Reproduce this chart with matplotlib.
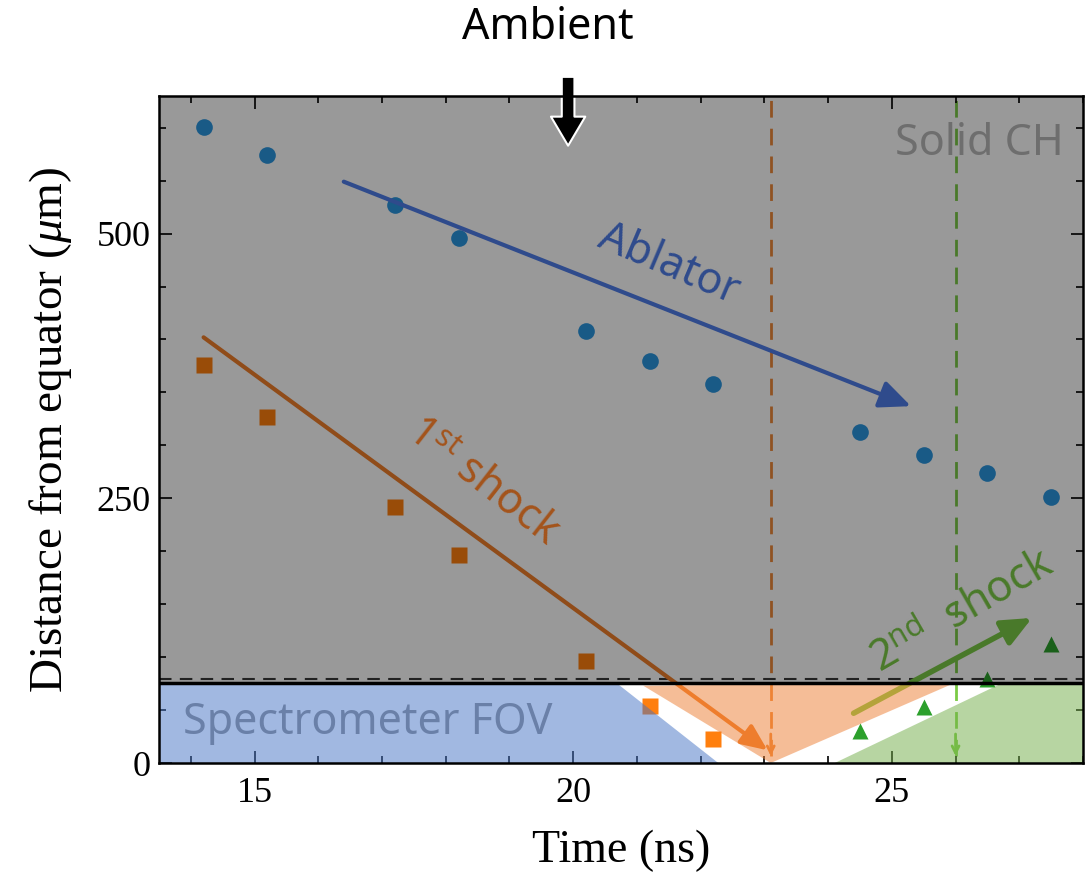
import matplotlib
matplotlib.use('Agg')
import matplotlib.pyplot as plt
from matplotlib.patches import Polygon, Rectangle
from matplotlib.ticker import MultipleLocator

plt.rcParams['mathtext.fontset'] = 'custom'
plt.rcParams['mathtext.rm'] = 'Liberation Serif'
plt.rcParams['mathtext.it'] = 'Liberation Serif:italic'
plt.rcParams['mathtext.sf'] = 'Noto Sans'

# measured positions (ns, um)
time = [14.2, 15.2, 17.2, 18.2, 20.2, 21.2, 22.2, 24.5, 25.5, 26.5, 27.5]
ablator = [601, 574, 527, 496, 408, 380, 358, 313, 291, 274, 251]
shock1_time = [14.2, 15.2, 17.2, 18.2, 20.2, 21.2, 22.2]
shock1 = [376, 327, 242, 196, 96, 54, 23]
shock2_time = [24.5, 25.5, 26.5, 27.5]
shock2 = [30, 53, 79, 112]

solid_edge = 76          # lower edge of the solid CH region
shock1_exit = 23.1
shock2_exit = 26.0

# guide arrows (start, end)
ablator_arrow = [(16.4, 549), (25.3, 337)]
shock1_arrow = [(14.2, 402), (23.05, 12)]
shock2_arrow = [(24.4, 47), (27.2, 137)]
ambient_arrow = [(19.92, 648), (19.92, 583)]

# spectrometer field of view zones
blue_zone = [(13.5, 76), (20.67, 76), (22.34, -3), (13.5, -3)]
orange_zone = [(21.1, 73), (26.0, 76), (23.1, 0)]
green_zone = [(24.0, -3), (26.75, 76), (28.0, 76), (28.0, -3)]

sans = 'Noto Sans'
serif = 'Liberation Serif'

fig = plt.figure(figsize=(10.89, 8.72), dpi=100)
ax = fig.add_axes([0.146, 0.125, 0.8485, 0.765])
ax.set_xlim(13.5, 28.0)
ax.set_ylim(0, 630)

# data, drawn under the grey overlay
ax.plot(time, ablator, 'o', color='#2b96e0', ms=12, mec='none', zorder=1)
ax.plot(shock1_time, shock1, 's', color='#ff7f0e', ms=11, mec='none', zorder=1)
ax.plot(shock2_time, shock2, '^', color='#2ca02c', ms=12, mec='none', zorder=1)

ax.axvline(shock1_exit, ymin=0.01, color='#f08a3a', lw=2, ls=(0, (6, 4)), zorder=1)
ax.axvline(shock2_exit, ymin=0.01, color='#7bcb46', lw=2, ls=(0, (6, 4)), zorder=1)
for xe, c in [(shock1_exit, '#f08a3a'), (shock2_exit, '#7bcb46')]:
    ax.annotate('', xy=(xe, 4), xytext=(xe, 30),
                arrowprops=dict(arrowstyle='->,head_length=0.5,head_width=0.25', color=c, lw=2),
                zorder=1)
ax.axhline(solid_edge + 3, color='#3a3a3a', lw=1.5, ls=(0, (6, 4)), zorder=1)

ax.annotate('', xy=shock1_arrow[1], xytext=shock1_arrow[0],
            arrowprops=dict(arrowstyle='-|>,head_length=0.8,head_width=0.35',
                            color='#f07f2a', lw=3, shrinkA=0, shrinkB=0, mutation_scale=20),
            zorder=1)
ax.annotate('', xy=shock2_arrow[1], xytext=shock2_arrow[0],
            arrowprops=dict(arrowstyle='-|>,head_length=0.9,head_width=0.4',
                            color='#7bcb46', lw=4, shrinkA=0, shrinkB=0, mutation_scale=20),
            zorder=1)

# solid CH region
ax.add_patch(Rectangle((13, solid_edge), 16, 700, color='black', alpha=0.4, lw=0, zorder=2))
ax.axhline(solid_edge, color='black', lw=2.5, zorder=4)

for zone, c in [(blue_zone, '#4472c4'), (orange_zone, '#ed7d31'), (green_zone, '#70ad47')]:
    ax.add_patch(Polygon(zone, closed=True, fc=c, alpha=0.5, lw=0, zorder=3))

ax.annotate('', xy=ablator_arrow[1], xytext=ablator_arrow[0],
            arrowprops=dict(arrowstyle='-|>,head_length=0.95,head_width=0.42',
                            color='#2f4b8c', lw=3, shrinkA=0, shrinkB=0, mutation_scale=20),
            zorder=4)
ax.annotate('', xy=ambient_arrow[1], xytext=ambient_arrow[0], annotation_clip=False,
            arrowprops=dict(arrowstyle='simple,head_length=0.55,head_width=0.65,tail_width=0.24',
                            fc='black', ec='white', lw=1.5, shrinkA=0, shrinkB=0,
                            mutation_scale=38),
            zorder=5)

ax.text(21.5, 470, 'Ablator', color='#2f4b8c', fontsize=31, family=sans,
        rotation=-23, ha='center', va='center', rotation_mode='anchor', zorder=4)
ax.text(18.58, 265, r'1$^{\mathsf{st}}$ shock', color='#a4541c', fontsize=31, family=sans,
        rotation=-38, ha='center', va='center', rotation_mode='anchor', zorder=4)
ax.text(26.11, 142, r'2$^{\mathsf{nd}}$  shock', color='#4a7a2a', fontsize=31, family=sans,
        rotation=30, ha='center', va='center', rotation_mode='anchor', zorder=4)
ax.text(27.7, 585, 'Solid CH', color='#6e6e6e', fontsize=31, family=sans,
        ha='right', va='center', zorder=4)
ax.text(13.875, 27, 'Spectrometer FOV', color='#6a80a8', fontsize=31, family=sans,
        ha='left', va='baseline', zorder=4)
fig.text(0.503, 0.968, 'Ambient', color='black', fontsize=31, family=sans,
         ha='center', va='center')

# axes
ax.xaxis.set_major_locator(MultipleLocator(5))
ax.xaxis.set_minor_locator(MultipleLocator(1))
ax.yaxis.set_major_locator(MultipleLocator(250))
ax.yaxis.set_minor_locator(MultipleLocator(50))
ax.tick_params(which='both', direction='in', top=True, right=True, width=1.2)
ax.tick_params(which='major', length=9)
ax.tick_params(which='minor', length=5)
ax.tick_params(axis='x', pad=10)
ax.tick_params(axis='y', pad=6)
for lab in ax.get_xticklabels() + ax.get_yticklabels():
    lab.set_fontfamily(serif)
    lab.set_fontsize(26)
for s in ax.spines.values():
    s.set_linewidth(1.8)
    s.set_zorder(6)

ax.set_xlabel('Time (ns)', fontsize=33, family=serif, labelpad=14)
ax.set_ylabel(r'Distance from equator ($\mu$m)', fontsize=34, family=serif, labelpad=16)

fig.savefig('out.png', dpi=100)
